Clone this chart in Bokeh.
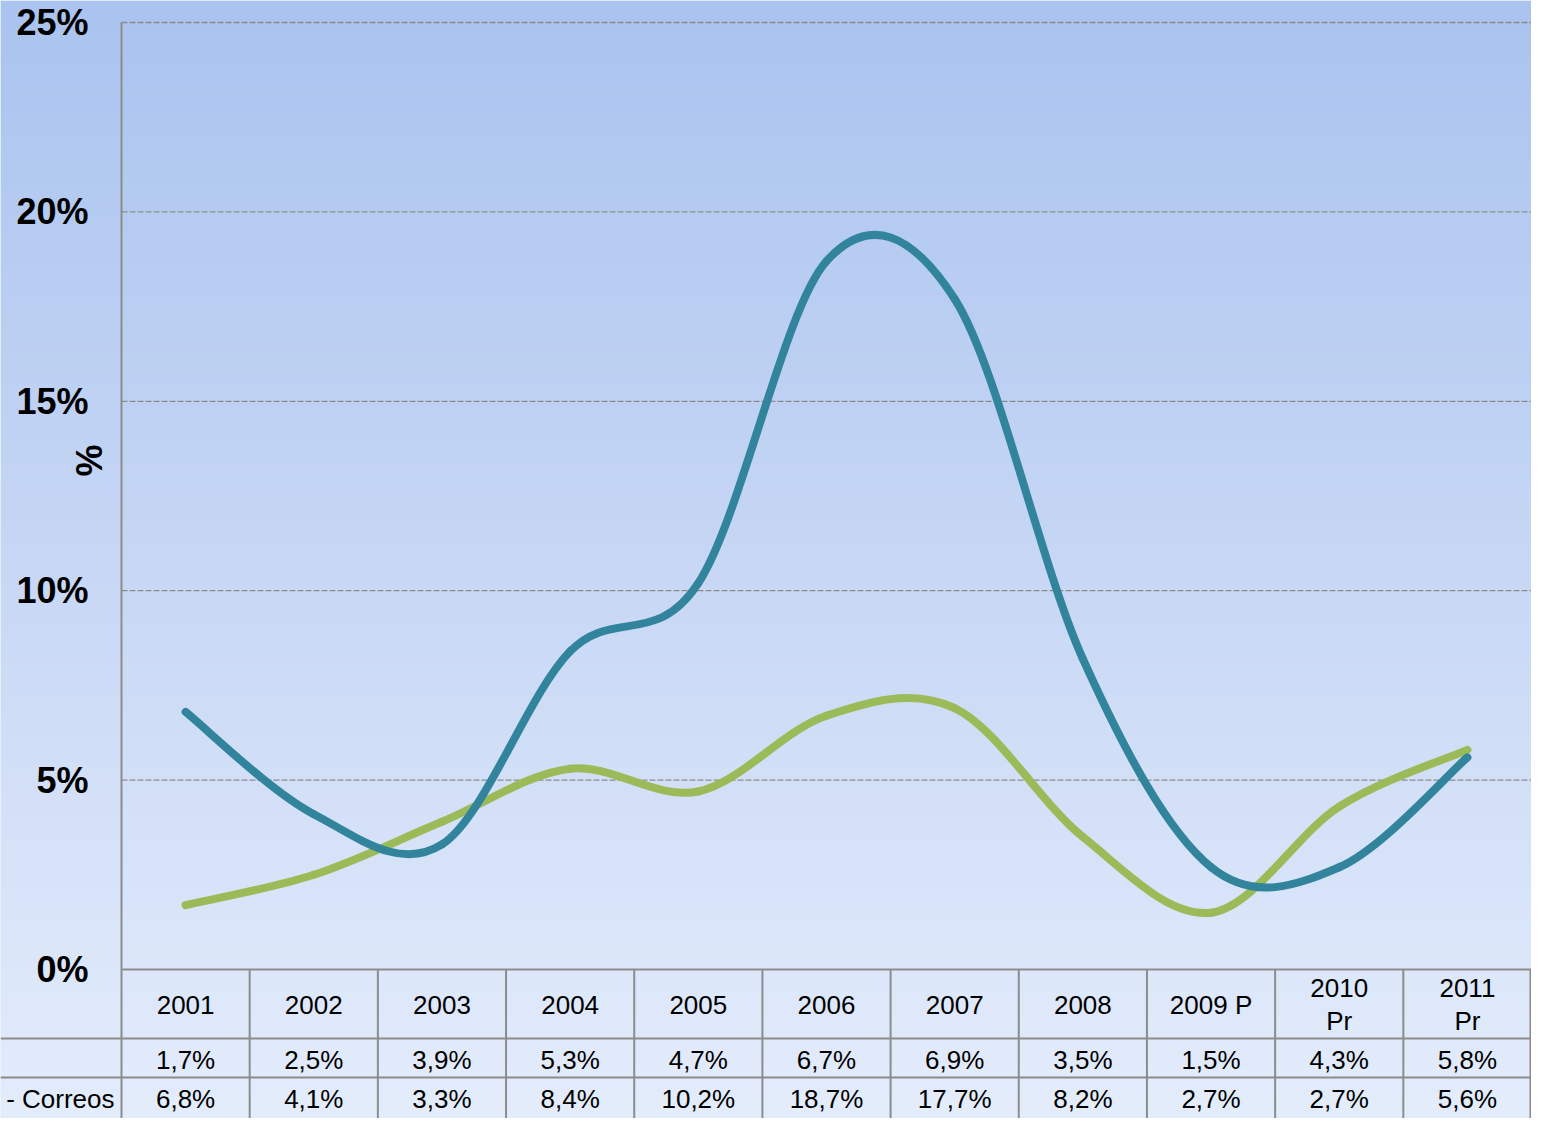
import numpy as np
from bokeh.plotting import figure
from bokeh.models import Range1d
from bokeh.core.properties import value
from bokeh.embed import file_html
from bokeh.resources import INLINE

# ---- data ----
years = ["2001", "2002", "2003", "2004", "2005", "2006", "2007", "2008", "2009 P", "2010\nPr", "2011\nPr"]
series_green = [1.7, 2.5, 3.9, 5.3, 4.7, 6.7, 6.9, 3.5, 1.5, 4.3, 5.8]
series_blue = [6.8, 4.1, 3.3, 8.4, 10.2, 18.7, 17.7, 8.2, 2.7, 2.7, 5.6]
row_labels = ["", "- Correos"]
y_ticks = [0, 5, 10, 15, 20, 25]
y_tick_labels = ["0%", "5%", "10%", "15%", "20%", "25%"]
y_title = "%"

W, H = 1531, 1118
LEFT_PX = 121           # plot area left edge
TOP_PX = 22             # 25% line
ZERO_PX = 969           # 0% line
n = len(years)
px_per_col = (W - LEFT_PX) / n
px_per_pct = (ZERO_PX - TOP_PX) / 25.0

x0 = -LEFT_PX / px_per_col
y_top = 25 + TOP_PX / px_per_pct
y_bot = -(H - ZERO_PX) / px_per_pct

def py(pix):  # pixel offset below 0% line -> data y
    return -pix / px_per_pct

def px(pix):  # pixel from left edge -> data x
    return x0 + pix / px_per_col

p = figure(width=W, height=H, output_backend="svg", toolbar_location=None,
           x_range=Range1d(x0, n), y_range=Range1d(y_bot, y_top),
           min_border=0)
p.axis.visible = False
p.grid.visible = False
p.outline_line_color = None
p.background_fill_color = "#e4edfc"
p.border_fill_color = "#e4edfc"

# gradient background
top_c = np.array([170, 196, 239])
mid_c = np.array([199, 215, 245])
bot_c = np.array([228, 237, 252])
rows = H
t = np.linspace(0, 1, rows)[:, None]
col = np.where(t < 0.5, top_c + (mid_c - top_c) * (t / 0.5), mid_c + (bot_c - mid_c) * ((t - 0.5) / 0.5))
img = np.zeros((rows, 1), dtype=np.uint32)
view = img.view(dtype=np.uint8).reshape((rows, 1, 4))
col = col[::-1]  # image row 0 is at bottom
view[:, 0, 0] = col[:, 0]
view[:, 0, 1] = col[:, 1]
view[:, 0, 2] = col[:, 2]
view[:, 0, 3] = 255
p.image_rgba(image=[img], x=x0, y=y_bot, dw=n - x0, dh=y_top - y_bot)

# grid lines
grid_y = [v for v in y_ticks if v > 0]
p.segment(x0=[0] * len(grid_y), y0=grid_y, x1=[n] * len(grid_y), y1=grid_y,
          line_color="#8c8c8c", line_width=1.3, line_dash="6 2")

# y axis line
p.segment(x0=[0], y0=[25], x1=[0], y1=[0], line_color="#8c8c8c", line_width=2)

# y tick labels
p.text(x=[px(88)] * len(y_ticks), y=y_ticks, text=y_tick_labels,
       text_align="right", text_baseline="middle", text_font=value("Liberation Sans"),
       text_font_style="bold", text_font_size="36px", text_color="black")
p.text(x=[px(89)], y=[(ZERO_PX - 460) / px_per_pct], text=[y_title],
       angle=np.pi / 2, text_align="center", text_baseline="middle",
       text_font=value("Liberation Sans"), text_font_style="bold",
       text_font_size="36px", text_color="black")

# smooth lines via bezier (Catmull-Rom control points)
def draw_smooth(vals, color):
    xs = [i + 0.5 for i in range(len(vals))]
    ys = list(vals)
    bx0, by0, bx1, by1, c0x, c0y, c1x, c1y = [], [], [], [], [], [], [], []
    for i in range(len(xs) - 1):
        i0 = max(i - 1, 0)
        i3 = min(i + 2, len(xs) - 1)
        bx0.append(xs[i]); by0.append(ys[i])
        bx1.append(xs[i + 1]); by1.append(ys[i + 1])
        c0x.append(xs[i] + (xs[i + 1] - xs[i0]) / 6.0)
        c0y.append(ys[i] + (ys[i + 1] - ys[i0]) / 6.0)
        c1x.append(xs[i + 1] - (xs[i3] - xs[i]) / 6.0)
        c1y.append(ys[i + 1] - (ys[i3] - ys[i]) / 6.0)
    p.bezier(x0=bx0, y0=by0, x1=bx1, y1=by1, cx0=c0x, cy0=c0y, cx1=c1x, cy1=c1y,
             line_color=color, line_width=8, line_cap="round")

draw_smooth(series_green, "#9bbb59")
draw_smooth(series_blue, "#31849b")

# data table
grid_c = "#8c8c8c"
r1 = py(69)
r2 = py(108)
p.segment(x0=[0, x0, x0], y0=[0, r1, r2], x1=[n, n, n], y1=[0, r1, r2],
          line_color=grid_c, line_width=2)
vx = list(range(n + 1))
vx[-1] = n - 1.0 / px_per_col
p.segment(x0=vx, y0=[0] * len(vx), x1=vx, y1=[y_bot] * len(vx),
          line_color=grid_c, line_width=2)

xc = [i + 0.5 for i in range(n)]
p.text(x=xc, y=[py(35)] * n, text=years, text_align="center", text_baseline="middle",
       text_font=value("Liberation Sans"), text_font_size="26px", text_color="black",
       text_line_height=1.08)
p.text(x=xc, y=[py(90)] * n, text=[f"{v:.1f}%".replace(".", ",") for v in series_green],
       text_align="center", text_baseline="middle",
       text_font=value("Liberation Sans"), text_font_size="26px", text_color="black")
p.text(x=xc, y=[py(129)] * n, text=[f"{v:.1f}%".replace(".", ",") for v in series_blue],
       text_align="center", text_baseline="middle",
       text_font=value("Liberation Sans"), text_font_size="26px", text_color="black")
p.text(x=[px(114)] * 2, y=[py(90), py(129)], text=row_labels,
       text_align="right", text_baseline="middle",
       text_font=value("Liberation Sans"), text_font_size="26px", text_color="black")

open("out.html", "w").write(file_html(p, INLINE))
